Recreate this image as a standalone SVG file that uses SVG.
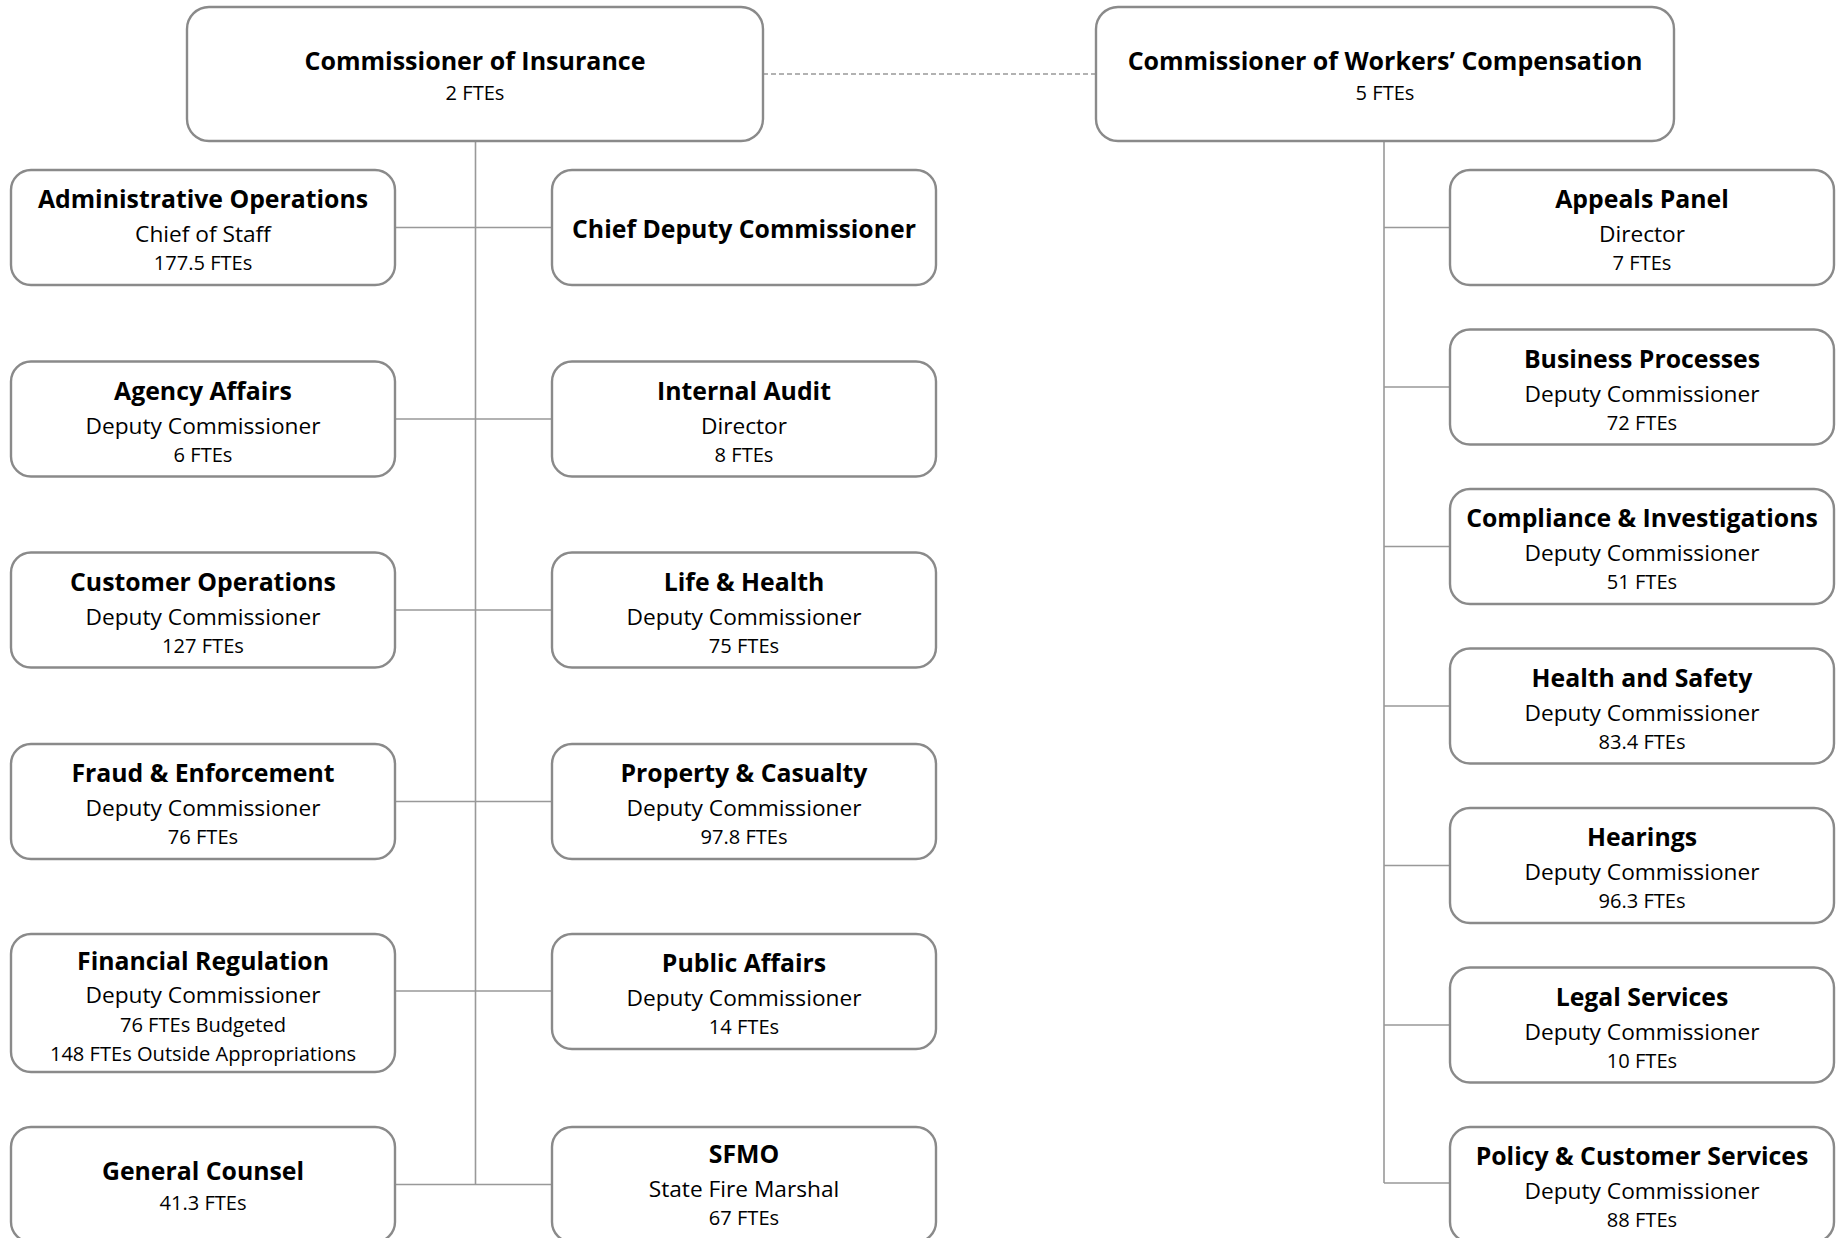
<svg xmlns="http://www.w3.org/2000/svg" width="1839" height="1238" viewBox="0 0 1839 1238">
<style>
.box{fill:#fff;stroke:#8a8a8a;stroke-width:2.4}
.ln{stroke:#999;stroke-width:1.6;fill:none}
.dash{stroke:#999;stroke-width:1.6;fill:none;stroke-dasharray:5 3}
text{font-family:"Open Sans","Noto Sans","DejaVu Sans",sans-serif;fill:#000;text-anchor:middle}
.t{font-weight:700;font-size:24.8px}
.tb{font-weight:700;font-size:25px}
.s{font-size:22.7px}
.f{font-size:20.1px}
</style>
<rect width="1839" height="1238" fill="#fff"/>
<g id="connectors">
<line class="dash" x1="763" y1="74" x2="1096" y2="74"/>
<line class="ln" x1="475.5" y1="131" x2="475.5" y2="1184.5"/>
<line class="ln" x1="395" y1="227.5" x2="552" y2="227.5"/>
<line class="ln" x1="395" y1="419" x2="552" y2="419"/>
<line class="ln" x1="395" y1="610" x2="552" y2="610"/>
<line class="ln" x1="395" y1="801.5" x2="552" y2="801.5"/>
<line class="ln" x1="395" y1="991" x2="552" y2="991"/>
<line class="ln" x1="395" y1="1184.5" x2="552" y2="1184.5"/>
<line class="ln" x1="1384" y1="142" x2="1384" y2="1183"/>
<line class="ln" x1="1384" y1="227.5" x2="1450" y2="227.5"/>
<line class="ln" x1="1384" y1="387" x2="1450" y2="387"/>
<line class="ln" x1="1384" y1="546.5" x2="1450" y2="546.5"/>
<line class="ln" x1="1384" y1="706" x2="1450" y2="706"/>
<line class="ln" x1="1384" y1="865.5" x2="1450" y2="865.5"/>
<line class="ln" x1="1384" y1="1025" x2="1450" y2="1025"/>
<line class="ln" x1="1384" y1="1183" x2="1450" y2="1183"/>
</g>
<g id="commissioner-insurance">
<rect class="box" x="187" y="7" width="576" height="134" rx="22"/>
<text class="tb" x="475" y="70">Commissioner of Insurance</text>
<text class="f" x="475" y="100">2 FTEs</text>
</g>
<g id="commissioner-workers-comp">
<rect class="box" x="1096" y="7" width="578" height="134" rx="22"/>
<text class="tb" x="1385" y="70">Commissioner of Workers’ Compensation</text>
<text class="f" x="1385" y="100">5 FTEs</text>
</g>
<g id="administrative-operations">
<rect class="box" x="11" y="170" width="384" height="115" rx="20"/>
<text class="t" x="203" y="208">Administrative Operations</text>
<text class="s" x="203" y="242">Chief of Staff</text>
<text class="f" x="203" y="270">177.5 FTEs</text>
</g>
<g id="chief-deputy-commissioner">
<rect class="box" x="552" y="170" width="384" height="115" rx="20"/>
<text class="t" x="744" y="238">Chief Deputy Commissioner</text>
</g>
<g id="agency-affairs">
<rect class="box" x="11" y="361.5" width="384" height="115" rx="20"/>
<text class="t" x="203" y="399.5">Agency Affairs</text>
<text class="s" x="203" y="433.5">Deputy Commissioner</text>
<text class="f" x="203" y="461.5">6 FTEs</text>
</g>
<g id="internal-audit">
<rect class="box" x="552" y="361.5" width="384" height="115" rx="20"/>
<text class="t" x="744" y="399.5">Internal Audit</text>
<text class="s" x="744" y="433.5">Director</text>
<text class="f" x="744" y="461.5">8 FTEs</text>
</g>
<g id="customer-operations">
<rect class="box" x="11" y="552.5" width="384" height="115" rx="20"/>
<text class="t" x="203" y="590.5">Customer Operations</text>
<text class="s" x="203" y="624.5">Deputy Commissioner</text>
<text class="f" x="203" y="652.5">127 FTEs</text>
</g>
<g id="life-health">
<rect class="box" x="552" y="552.5" width="384" height="115" rx="20"/>
<text class="t" x="744" y="590.5">Life &amp; Health</text>
<text class="s" x="744" y="624.5">Deputy Commissioner</text>
<text class="f" x="744" y="652.5">75 FTEs</text>
</g>
<g id="fraud-enforcement">
<rect class="box" x="11" y="744" width="384" height="115" rx="20"/>
<text class="t" x="203" y="782">Fraud &amp; Enforcement</text>
<text class="s" x="203" y="816">Deputy Commissioner</text>
<text class="f" x="203" y="844">76 FTEs</text>
</g>
<g id="property-casualty">
<rect class="box" x="552" y="744" width="384" height="115" rx="20"/>
<text class="t" x="744" y="782">Property &amp; Casualty</text>
<text class="s" x="744" y="816">Deputy Commissioner</text>
<text class="f" x="744" y="844">97.8 FTEs</text>
</g>
<g id="financial-regulation">
<rect class="box" x="11" y="934" width="384" height="138" rx="20"/>
<text class="t" x="203" y="970">Financial Regulation</text>
<text class="s" x="203" y="1003">Deputy Commissioner</text>
<text class="f" x="203" y="1032">76 FTEs Budgeted</text>
<text class="f" x="203" y="1061">148 FTEs Outside Appropriations</text>
</g>
<g id="public-affairs">
<rect class="box" x="552" y="934" width="384" height="115" rx="20"/>
<text class="t" x="744" y="972">Public Affairs</text>
<text class="s" x="744" y="1006">Deputy Commissioner</text>
<text class="f" x="744" y="1034">14 FTEs</text>
</g>
<g id="general-counsel">
<rect class="box" x="11" y="1127" width="384" height="115" rx="20"/>
<text class="t" x="203" y="1180">General Counsel</text>
<text class="f" x="203" y="1210">41.3 FTEs</text>
</g>
<g id="sfmo">
<rect class="box" x="552" y="1127" width="384" height="115" rx="20"/>
<text class="t" x="744" y="1163">SFMO</text>
<text class="s" x="744" y="1197">State Fire Marshal</text>
<text class="f" x="744" y="1225">67 FTEs</text>
</g>
<g id="appeals-panel">
<rect class="box" x="1450" y="170" width="384" height="115" rx="20"/>
<text class="t" x="1642" y="208">Appeals Panel</text>
<text class="s" x="1642" y="242">Director</text>
<text class="f" x="1642" y="270">7 FTEs</text>
</g>
<g id="business-processes">
<rect class="box" x="1450" y="329.5" width="384" height="115" rx="20"/>
<text class="t" x="1642" y="367.5">Business Processes</text>
<text class="s" x="1642" y="401.5">Deputy Commissioner</text>
<text class="f" x="1642" y="429.5">72 FTEs</text>
</g>
<g id="compliance-investigations">
<rect class="box" x="1450" y="489" width="384" height="115" rx="20"/>
<text class="t" x="1642" y="527">Compliance &amp; Investigations</text>
<text class="s" x="1642" y="561">Deputy Commissioner</text>
<text class="f" x="1642" y="589">51 FTEs</text>
</g>
<g id="health-safety">
<rect class="box" x="1450" y="648.5" width="384" height="115" rx="20"/>
<text class="t" x="1642" y="686.5">Health and Safety</text>
<text class="s" x="1642" y="720.5">Deputy Commissioner</text>
<text class="f" x="1642" y="748.5">83.4 FTEs</text>
</g>
<g id="hearings">
<rect class="box" x="1450" y="808" width="384" height="115" rx="20"/>
<text class="t" x="1642" y="846">Hearings</text>
<text class="s" x="1642" y="880">Deputy Commissioner</text>
<text class="f" x="1642" y="908">96.3 FTEs</text>
</g>
<g id="legal-services">
<rect class="box" x="1450" y="967.5" width="384" height="115" rx="20"/>
<text class="t" x="1642" y="1005.5">Legal Services</text>
<text class="s" x="1642" y="1039.5">Deputy Commissioner</text>
<text class="f" x="1642" y="1067.5">10 FTEs</text>
</g>
<g id="policy-customer-services">
<rect class="box" x="1450" y="1127" width="384" height="115" rx="20"/>
<text class="t" x="1642" y="1165">Policy &amp; Customer Services</text>
<text class="s" x="1642" y="1199">Deputy Commissioner</text>
<text class="f" x="1642" y="1227">88 FTEs</text>
</g>
</svg>
